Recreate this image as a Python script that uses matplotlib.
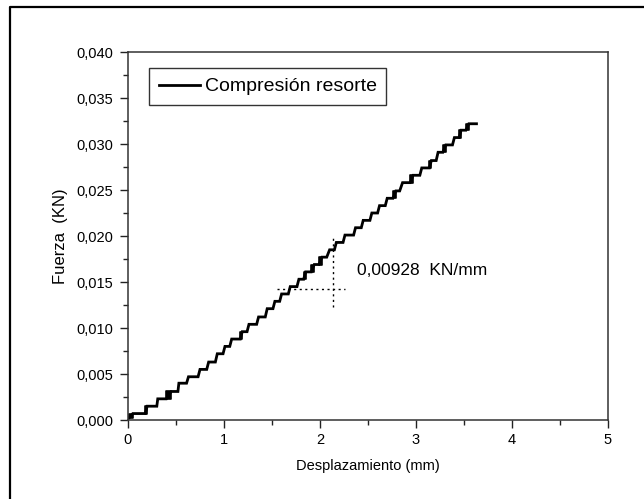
import matplotlib
matplotlib.use('Agg')
import matplotlib.pyplot as plt
from matplotlib.lines import Line2D
from matplotlib.ticker import MultipleLocator, FuncFormatter

plt.rcParams['font.family'] = ['Liberation Sans', 'DejaVu Sans']

# escalones (desplazamiento en mm, fuerza en KN)
step_start = [0.00, 0.05, 0.20, 0.31, 0.45, 0.53, 0.63, 0.75, 0.84, 0.93,
              1.01, 1.08, 1.19, 1.26, 1.36, 1.45, 1.53, 1.60, 1.69, 1.78,
              1.85, 1.94, 2.02, 2.10, 2.17, 2.26, 2.37, 2.45, 2.54, 2.62,
              2.70, 2.79, 2.86, 2.97, 3.06, 3.16, 3.23, 3.31, 3.40, 3.47,
              3.55]
step_end = [0.01, 0.18, 0.30, 0.40, 0.52, 0.61, 0.73, 0.82, 0.91, 0.99,
            1.06, 1.17, 1.24, 1.34, 1.43, 1.51, 1.58, 1.67, 1.76, 1.83,
            1.91, 1.99, 2.07, 2.15, 2.24, 2.35, 2.43, 2.52, 2.60, 2.68,
            2.76, 2.83, 2.94, 3.04, 3.14, 3.21, 3.28, 3.38, 3.45, 3.52,
            3.63]
levels = [0.0002, 0.0007, 0.0015, 0.0023, 0.0031, 0.0040, 0.0047, 0.0055, 0.0063, 0.0072,
          0.0080, 0.0088, 0.0096, 0.0104, 0.0112, 0.0121, 0.0129, 0.0137, 0.0145, 0.0153,
          0.0161, 0.0169, 0.0177, 0.0185, 0.0193, 0.0201, 0.0209, 0.0217, 0.0225, 0.0233,
          0.0241, 0.0249, 0.0258, 0.0266, 0.0274, 0.0282, 0.0291, 0.0299, 0.0307, 0.0315,
          0.0322]
# subidas con vibracion (se ven como bloques negros)
block_risers = [0, 1, 3, 11, 19, 20, 21, 30, 32, 34, 36, 38, 39]

# triangulo de pendiente
slope_h_x = [1.55, 2.26]
slope_h_y = [0.0142, 0.0142]
slope_v_x = [2.14, 2.14]
slope_v_y = [0.0123, 0.0201]
slope_text = '0,00928  KN/mm'

fig = plt.figure(figsize=(6.44, 4.99), dpi=100)
ax = fig.add_axes([128 / 644, 79 / 499, 480 / 644, 368 / 499])

# 1. construir la curva escalonada
xs, ys = [], []
for x0, x1, lv in zip(step_start, step_end, levels):
    xs += [x0, x1]
    ys += [lv, lv]
ax.plot(xs, ys, color='black', lw=2.0, solid_joinstyle='miter',
        label='Compresión resorte')
for i in block_risers:
    ax.fill_between([step_end[i], step_start[i + 1]], levels[i], levels[i + 1],
                    color='black', lw=1.2, edgecolor='black')

# 2. pendiente
ax.plot(slope_h_x, slope_h_y, color='black', lw=1.0, ls=(0, (1.5, 2.5)))
ax.plot(slope_v_x, slope_v_y, color='black', lw=1.0, ls=(0, (1.5, 2.5)))
ax.text(2.385, 0.0163, slope_text, fontsize=12.5, va='center', ha='left')

# 3. ejes
ax.set_xlim(0, 5)
ax.set_ylim(0, 0.040)
ax.xaxis.set_major_locator(MultipleLocator(1))
ax.xaxis.set_minor_locator(MultipleLocator(0.5))
ax.yaxis.set_major_locator(MultipleLocator(0.005))
ax.yaxis.set_minor_locator(MultipleLocator(0.0025))
ax.yaxis.set_major_formatter(FuncFormatter(lambda v, p: f'{v:.3f}'.replace('.', ',')))
ax.tick_params(which='major', direction='out', length=6, width=1.0, labelsize=10.5, pad=3,
               colors='#222222', labelcolor='black')
ax.tick_params(axis='y', which='major', pad=4.5)
ax.tick_params(which='minor', direction='out', length=3.5, width=1.0, colors='#222222')
for s in ax.spines.values():
    s.set_linewidth(1.1)
    s.set_color('#333333')

ax.set_xlabel('Desplazamiento (mm)', fontsize=10.5)
ax.set_ylabel('Fuerza  (KN)', fontsize=12)
ax.xaxis.set_label_coords(0.5, -0.105)
ax.yaxis.set_label_coords(-0.125, 0.5)

leg = ax.legend(loc='upper left', bbox_to_anchor=(0.044, 0.9565), borderaxespad=0,
                fancybox=False, edgecolor='#333333', fontsize=14, handlelength=2.1,
                handletextpad=0.25, borderpad=0.5, framealpha=1)
leg.get_frame().set_linewidth(1.0)

# 4. marco exterior (solo arriba e izquierda visibles)
fig.add_artist(Line2D([10 / 644, 10 / 644, 1.0], [0.0, 1 - 7 / 499, 1 - 7 / 499],
                      transform=fig.transFigure, color='black', lw=1.6))

fig.savefig('out.png', dpi=100)
plt.close(fig)
